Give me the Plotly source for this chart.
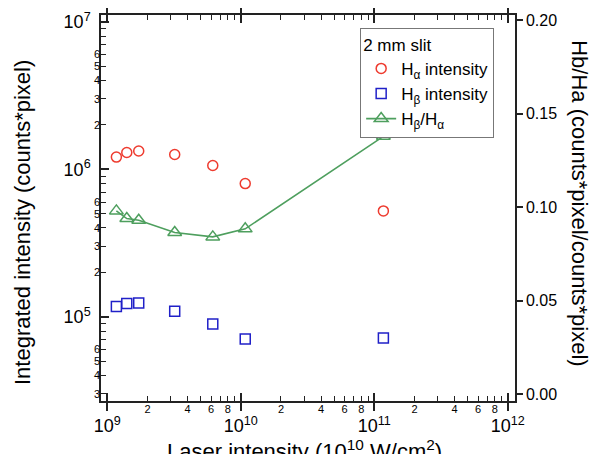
import plotly.graph_objects as go
import math

# ---- data ----
laser_intensity = [1.17e9, 1.40e9, 1.72e9, 3.2e9, 6.17e9, 1.08e10, 1.17e11]
h_alpha = [1.21e6, 1.30e6, 1.33e6, 1.26e6, 1.06e6, 8.0e5, 5.22e5]
h_beta = [1.175e5, 1.23e5, 1.24e5, 1.09e5, 8.94e4, 7.06e4, 7.17e4]
ratio = [0.0981, 0.0940, 0.0931, 0.0865, 0.0842, 0.0885, 0.138]

x_major_vals = [1e9, 1e10, 1e11, 1e12]
x_major_text = ["10<sup>9</sup>", "10<sup>10</sup>", "10<sup>11</sup>", "10<sup>12</sup>"]
x_digit_labels = ["2", "4", "6", "8"]
y_major_vals = [1e5, 1e6, 1e7]
y_major_text = ["10<sup>5</sup>", "10<sup>6</sup>", "10<sup>7</sup>"]
y_digit_labels = ["2", "3", "4", "5", "6"]
ratio_ticks = [0.00, 0.05, 0.10, 0.15, 0.20]

FONT = "Liberation Sans, Arial, Helvetica, sans-serif"
RED = "#ee3b2f"
BLUE = "#2020c8"
GREEN = "#4e9f5e"
AX = "#222222"

x_range = [8.953, 12.054]
y_range = [4.429, 7.046]
r_range = [-0.0036, 0.2029]


def minor_ticks(rng, lo, hi, labelled):
    vals, texts = [], []
    for e in range(lo, hi):
        for d in range(2, 10):
            v = d * 10 ** e
            if rng[0] <= math.log10(v) <= rng[1]:
                vals.append(v)
                texts.append(str(d) if str(d) in labelled else " ")
    return vals, texts


x_minor_vals, x_minor_text = minor_ticks(x_range, 8, 12, x_digit_labels)
y_minor_vals, y_minor_text = minor_ticks(y_range, 4, 8, y_digit_labels)

fig = go.Figure()
fig.add_trace(go.Scatter(
    x=laser_intensity, y=h_alpha, mode="markers", name="H<sub>α</sub> intensity",
    marker=dict(symbol="circle-open", size=10, color=RED, line=dict(width=1.5, color=RED)),
    xaxis="x", yaxis="y"))
fig.add_trace(go.Scatter(
    x=laser_intensity, y=h_beta, mode="markers", name="H<sub>β</sub> intensity",
    marker=dict(symbol="square-open", size=10, color=BLUE, line=dict(width=1.5, color=BLUE)),
    xaxis="x", yaxis="y"))
fig.add_trace(go.Scatter(
    x=laser_intensity, y=ratio, mode="lines+markers", name="H<sub>β</sub>/H<sub>α</sub>",
    line=dict(color=GREEN, width=1.6),
    marker=dict(symbol="triangle-up-open", size=12, color=GREEN, line=dict(width=1.5, color=GREEN)),
    xaxis="x", yaxis="y2"))
# helper invisible traces so the minor-tick overlay axes are drawn
fig.add_trace(go.Scatter(x=laser_intensity, y=h_alpha, mode="markers", marker=dict(opacity=0),
                         showlegend=False, hoverinfo="skip", xaxis="x2", yaxis="y"))
fig.add_trace(go.Scatter(x=laser_intensity, y=h_alpha, mode="markers", marker=dict(opacity=0),
                         showlegend=False, hoverinfo="skip", xaxis="x", yaxis="y3"))

fig.update_layout(
    width=600, height=454,
    margin=dict(l=93, r=92.5, t=6.5, b=61),
    paper_bgcolor="white", plot_bgcolor="white",
    font=dict(family=FONT, color="black", size=16),
    showlegend=True,
    legend=dict(
        x=0.626, y=0.967, xanchor="left", yanchor="top",
        bgcolor="white", bordercolor="#777777", borderwidth=1,
        title=dict(text="2 mm slit", font=dict(size=17, family=FONT)),
        font=dict(size=17, family=FONT), tracegroupgap=0,
    ),
    xaxis=dict(
        type="log", range=x_range, showgrid=False, zeroline=False, automargin=False,
        showline=True, linecolor=AX, linewidth=1.5, mirror="allticks",
        tickmode="array", tickvals=x_major_vals, ticktext=x_major_text,
        ticks="inside", ticklen=8, tickwidth=1.5, tickcolor=AX,
        tickfont=dict(size=18), ticklabelstandoff=8,
    ),
    xaxis2=dict(
        type="log", range=x_range, overlaying="x", anchor="y", side="bottom",
        showgrid=False, zeroline=False, showline=False, automargin=False,
        mirror="allticks",
        tickmode="array", tickvals=x_minor_vals, ticktext=x_minor_text,
        ticks="inside", ticklen=5, tickwidth=1.2, tickcolor=AX,
        tickfont=dict(size=11), ticklabelstandoff=0,
    ),
    yaxis=dict(
        type="log", range=y_range, showgrid=False, zeroline=False, automargin=False,
        showline=True, linecolor=AX, linewidth=1.5, mirror=True,
        tickmode="array", tickvals=y_major_vals, ticktext=y_major_text,
        ticks="inside", ticklen=8, tickwidth=1.5, tickcolor=AX,
        tickfont=dict(size=18), ticklabelstandoff=5,
    ),
    yaxis3=dict(
        type="log", range=y_range, overlaying="y", anchor="x", side="left",
        showgrid=False, zeroline=False, showline=False, automargin=False,
        tickmode="array", tickvals=y_minor_vals, ticktext=y_minor_text,
        ticks="inside", ticklen=5, tickwidth=1.2, tickcolor=AX,
        tickfont=dict(size=11), ticklabelstandoff=0,
    ),
    yaxis2=dict(
        range=r_range, overlaying="y", anchor="x", side="right", automargin=False,
        showgrid=False, zeroline=False, showline=True, linecolor=AX, linewidth=1.5,
        tickmode="array", tickvals=ratio_ticks, tickformat=".2f",
        ticks="outside", ticklen=6, tickwidth=1.5, tickcolor=AX,
        tickfont=dict(size=16),
    ),
    annotations=[
        dict(text="Integrated intensity (counts*pixel)", xref="paper", yref="paper",
             x=-0.19, y=0.462, xanchor="center", yanchor="middle", showarrow=False,
             textangle=-90, font=dict(size=22)),
        dict(text="Laser intensity (10<sup>10</sup> W/cm<sup>2</sup>)", xref="paper", yref="paper",
             x=0.4925, y=-0.085, xanchor="center", yanchor="top", showarrow=False,
             font=dict(size=22)),
        dict(text="Hb/Ha (counts*pixel/counts*pixel)", xref="paper", yref="paper",
             x=1.155, y=0.512, xanchor="center", yanchor="middle", showarrow=False,
             textangle=90, font=dict(size=22)),
    ],
)

fig.write_html("out.html")
